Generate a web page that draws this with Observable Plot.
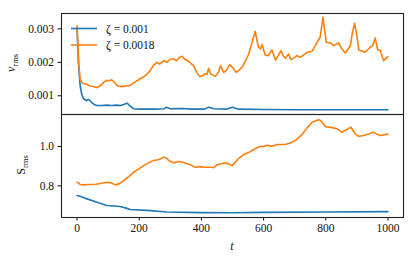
<!DOCTYPE html>
<html>
<head>
<meta charset="utf-8">
<script src="https://cdn.jsdelivr.net/npm/d3@7"></script>
<script src="https://cdn.jsdelivr.net/npm/@observablehq/plot@0.6"></script>
<style>
  html, body { margin: 0; padding: 0; background: #fff; }
  #wrap { position: relative; width: 416px; height: 261px; }
  #wrap svg { position: absolute; left: 0; }
  #wrap svg text { font-family: 'Liberation Serif', 'DejaVu Serif', serif; }
</style>
</head>
<body>
<div id="wrap"></div>
<script>
// ---- data ----
const seriesLabels = ["ζ = 0.001", "ζ = 0.0018"];
const seriesColors = ["#1f77b4", "#ff7f0e"];

const tVBlue = [0,5,10,15,21,30,37,45,55,64,80,96,110,128,140,150,161,172,182,200,250,280,287,300,338,370,410,423,440,480,500,520,600,700,800,900,1000];
const vBlue  = [0.0030,0.0019,0.0013,0.00105,0.00091,0.00086,0.00089,0.00082,0.00074,0.00071,0.00071,0.00072,0.00071,0.00072,0.00071,0.00074,0.00078,0.00068,0.00061,0.0006,0.0006,0.00061,0.00066,0.00061,0.00062,0.0006,0.0006,0.00066,0.00061,0.0006,0.00066,0.0006,0.00059,0.00058,0.00058,0.00058,0.00058];

const tVOrange = [0,3,6,10,15,21,30,40,55,64,75,85,96,104,112,120,130,139,150,160,171,185,203,220,236,245,257,265,279,290,300,311,320,330,338,345,359,368,375,385,394,405,412,418,423,430,445,455,461,472,480,491,500,512,525,534,545,552,563,573,580,584,590,595,605,615,627,638,647,656,663,670,680,688,700,707,718,729,740,756,772,782,791,797,802,815,825,841,852,863,872,879,886,893,900,906,927,943,951,959,967,975,986,997,1000];
const vOrange  = [0.0031,0.0025,0.0019,0.0015,0.0014,0.00136,0.00135,0.0013,0.00127,0.00125,0.0013,0.0014,0.00146,0.00145,0.00148,0.0014,0.0013,0.00128,0.00128,0.0013,0.00131,0.0014,0.00151,0.0016,0.00176,0.0019,0.002,0.00195,0.00205,0.002,0.0021,0.0021,0.00205,0.00215,0.00218,0.0021,0.00203,0.00195,0.0019,0.0017,0.00158,0.0016,0.00166,0.00164,0.00182,0.00165,0.00158,0.0017,0.0019,0.0017,0.00175,0.00193,0.00185,0.0017,0.0018,0.0019,0.0021,0.00225,0.0026,0.00293,0.0026,0.00245,0.0024,0.00253,0.00222,0.0022,0.00237,0.00207,0.0022,0.00235,0.0022,0.00212,0.00225,0.00208,0.00215,0.0022,0.00215,0.00222,0.0023,0.00233,0.0026,0.00275,0.00335,0.0029,0.0026,0.00258,0.0025,0.00258,0.0024,0.00228,0.0024,0.0025,0.0029,0.00317,0.0028,0.00237,0.0023,0.00245,0.0025,0.00273,0.00237,0.00237,0.00205,0.00215,0.00217];

const tSBlue = [0,10,30,64,96,139,155,171,236,289,396,500,600,800,1000];
const sBlue  = [0.751,0.747,0.735,0.717,0.70,0.695,0.688,0.68,0.674,0.667,0.664,0.663,0.665,0.667,0.669];

const tSOrange = [0,5,10,20,43,60,75,96,110,123,135,150,165,182,200,214,230,246,260,268,279,287,295,311,327,340,354,370,380,396,410,429,440,450,465,477,490,498,509,520,536,550,563,575,587,600,611,627,643,660,670,685,702,723,740,756,770,780,788,798,825,836,852,868,881,895,906,922,940,954,965,975,1000];
const sOrange  = [0.818,0.815,0.807,0.805,0.807,0.808,0.812,0.818,0.815,0.805,0.81,0.827,0.845,0.869,0.888,0.903,0.917,0.929,0.933,0.937,0.946,0.943,0.929,0.917,0.924,0.92,0.912,0.903,0.895,0.898,0.895,0.895,0.892,0.907,0.912,0.917,0.91,0.903,0.92,0.94,0.959,0.968,0.98,0.99,1.0,1.0,1.007,1.002,1.01,1.01,1.01,1.018,1.03,1.06,1.095,1.124,1.133,1.136,1.124,1.102,1.095,1.09,1.073,1.087,1.098,1.064,1.052,1.056,1.065,1.073,1.062,1.056,1.063];

const xTicks = [0,200,400,600,800,1000];
const vTicks = [0.001,0.002,0.003];
const sTicks = [0.8,1.0];

// ---- build tables ----
const zip = (ts, ys) => ts.map((t, i) => ({t, y: ys[i]}));
const topBlue = zip(tVBlue, vBlue), topOrange = zip(tVOrange, vOrange);
const botBlue = zip(tSBlue, sBlue), botOrange = zip(tSOrange, sOrange);

const FONT = "'Liberation Serif', 'DejaVu Serif', serif";
const style = {"font-family": FONT, "font-size": "11.5px", "color": "#111", "background": "transparent", "overflow": "visible"};
const lw = 1.6;

const topPlot = Plot.plot({
  width: 416, height: 115,
  marginTop: 13, marginBottom: 1, marginLeft: 61, marginRight: 13,
  style,
  x: {domain: [-50, 1050], axis: null},
  y: {domain: [0.00044, 0.00346], ticks: vTicks, tickFormat: d3.format(".3f"), label: null, tickSize: 3.5, tickPadding: 4},
  marks: [
    Plot.line(topBlue, {x: "t", y: "y", stroke: seriesColors[0], strokeWidth: lw}),
    Plot.line(topOrange, {x: "t", y: "y", stroke: seriesColors[1], strokeWidth: lw}),
    Plot.frame({stroke: "#222", strokeWidth: 1.1})
  ]
});

const botPlot = Plot.plot({
  width: 416, height: 148,
  marginTop: 1, marginBottom: 44, marginLeft: 61, marginRight: 13,
  style,
  x: {domain: [-50, 1050], ticks: xTicks, tickFormat: d3.format("d"), label: null, tickSize: 3.5, tickPadding: 3},
  y: {domain: [0.639, 1.163], ticks: sTicks, tickFormat: d3.format(".1f"), label: null, tickSize: 3.5, tickPadding: 4},
  marks: [
    Plot.line(botBlue, {x: "t", y: "y", stroke: seriesColors[0], strokeWidth: lw}),
    Plot.line(botOrange, {x: "t", y: "y", stroke: seriesColors[1], strokeWidth: lw}),
    Plot.frame({stroke: "#222", strokeWidth: 1.1})
  ]
});

topPlot.style.top = "0px";
botPlot.style.top = "113px";
const wrap = document.getElementById("wrap");
wrap.appendChild(topPlot);
wrap.appendChild(botPlot);

// ---- axis labels ----
function yLabel(svg, base, cx, cy, italic) {
  const t = d3.select(svg).append("text")
    .attr("transform", `translate(${cx},${cy}) rotate(-90)`)
    .attr("text-anchor", "middle")
    .attr("fill", "#111")
    .style("font-family", FONT).style("font-size", "12px");
  t.append("tspan").attr("font-style", italic ? "italic" : "normal").text(base);
  t.append("tspan").attr("font-size", "8.5px").attr("dy", "2.5").text("rms");
}
yLabel(topPlot, "v", 15, 63, true);
yLabel(botPlot, "S", 25, 52, false);

d3.select(botPlot).append("text")
  .attr("x", 232).attr("y", 137)
  .attr("text-anchor", "middle").attr("fill", "#111")
  .style("font-family", FONT).style("font-size", "12px").style("font-style", "italic")
  .text("t");

// ---- legend ----
const lg = d3.select(topPlot).append("g");
seriesLabels.forEach((lab, i) => {
  const y = 28.5 + i * 16.5;
  lg.append("line").attr("x1", 71).attr("x2", 97).attr("y1", y).attr("y2", y)
    .attr("stroke", seriesColors[i]).attr("stroke-width", lw);
  lg.append("text").attr("x", 106).attr("y", y + 4).attr("fill", "#111")
    .attr("text-anchor", "start")
    .style("font-family", FONT).style("font-size", "11.5px")
    .text(lab);
});
</script>
</body>
</html>
